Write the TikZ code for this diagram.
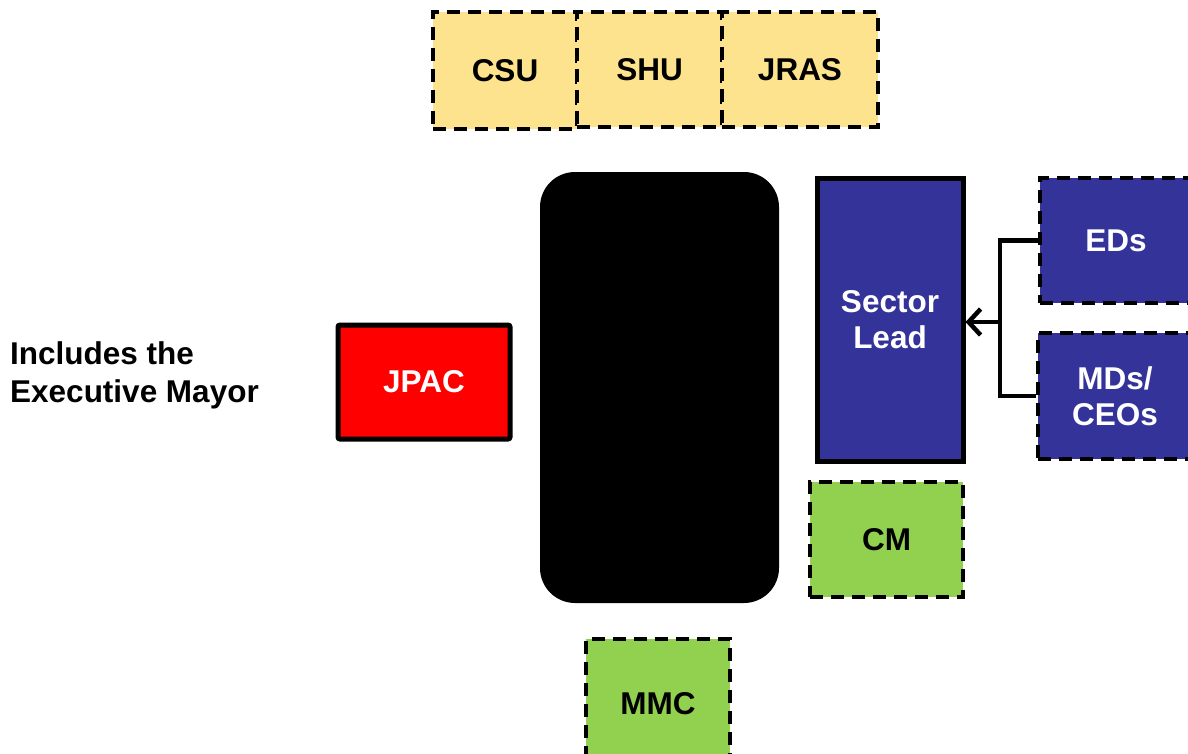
\documentclass[tikz,border=0pt]{standalone}
\usepackage{fontspec}
\setmainfont{Liberation Sans}
\usetikzlibrary{arrows.meta}
\definecolor{unitfill}{HTML}{FEE38F}
\definecolor{navyfill}{HTML}{333399}
\definecolor{greenfill}{HTML}{92D050}
\definecolor{redfill}{HTML}{FF0000}
\tikzset{
  boxbase/.style={rectangle, inner sep=0pt, align=center,
    font=\fontsize{31.5}{36}\selectfont\bfseries},
  dashbox/.style={boxbase, draw=black, line width=3.8pt,
    dash pattern=on 13pt off 8pt},
  solidbox/.style={boxbase, draw=black, line width=5pt},
  unitbox/.style={dashbox, fill=unitfill, text=black},
  navybox/.style={dashbox, fill=navyfill, text=white},
  greenbox/.style={dashbox, fill=greenfill, text=black},
  link/.style={line width=4.5pt, draw=black}
}
\begin{document}
\begin{tikzpicture}[x=1pt, y=-1pt]
\useasboundingbox (0,0) rectangle (1188,753);
\fill[white] (0,0) rectangle (1188,753);

% support units along the top
\node[unitbox, minimum width=144pt, minimum height=117pt] (csu)  at (505,70.5) {CSU};
\node[unitbox, minimum width=145pt, minimum height=115pt] (shu)  at (649.5,69.5) {SHU};
\node[unitbox, minimum width=156pt, minimum height=115pt] (jras) at (800,69.5) {JRAS};

% central block
\node[rectangle, fill=black, rounded corners=35pt, minimum width=239pt,
      minimum height=431pt, inner sep=0pt] (core) at (659.5,387.5) {};

% sector lead and its reports
\node[solidbox, fill=navyfill, text=white, minimum width=146pt, minimum height=283pt] (lead) at (890,319.5) {Sector\\Lead};
\node[navybox, minimum width=152pt, minimum height=125pt] (eds) at (1116,240.5) {EDs};
\node[navybox, minimum width=154pt, minimum height=126pt] (mds) at (1115,396) {MDs/\\CEOs};
\coordinate (join) at (1000,322);
\draw[link] (eds.west) -| (join) |- (mds.west);
\draw[link, -{Straight Barb[length=12pt, width=26pt, line width=4.5pt]}] (join) -- (lead.east |- join);

% committees
\node[solidbox, fill=redfill, text=white, rounded corners=2pt, minimum width=172pt, minimum height=114pt] (jpac) at (424,382) {JPAC};
\node[greenbox, minimum width=153pt, minimum height=115pt] (cm) at (886.5,539.5) {CM};
\node[greenbox, minimum width=144pt, minimum height=130pt] (mmc) at (658,704) {MMC};

% note on the left
\node[anchor=north west, align=left, inner sep=0pt,
      font=\fontsize{31.5}{38}\selectfont\bfseries] (note) at (10,341) {Includes the\\Executive Mayor};
\end{tikzpicture}
\end{document}
